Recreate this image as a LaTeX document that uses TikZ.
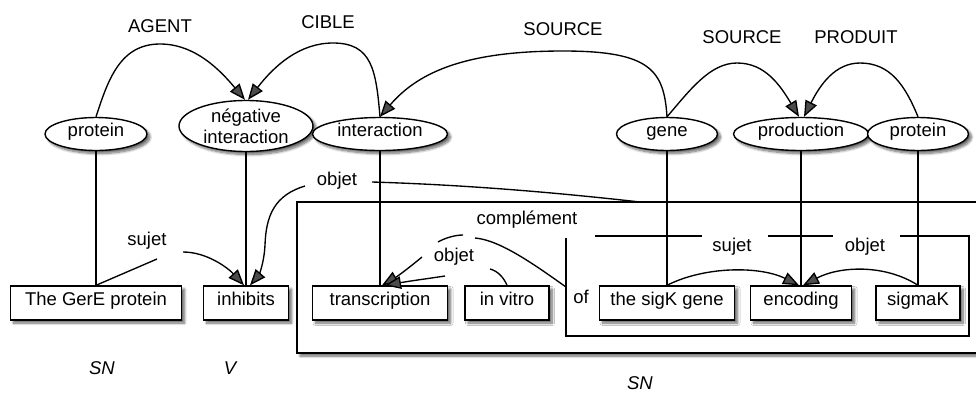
\documentclass[tikz,border=0pt]{standalone}
\usepackage{fontspec}
\setmainfont{Liberation Sans}
\usetikzlibrary{arrows.meta,shapes.geometric,shadows.blur}
\begin{document}
\begin{tikzpicture}[x=1pt,y=-1pt,
  every node/.style={font=\fontsize{18.5}{21}\selectfont},
  softshadow/.style={blur shadow={shadow xshift=3pt,shadow yshift=-3pt,shadow blur radius=2.5pt,shadow blur steps=8,shadow opacity=60}},
  concept/.style={ellipse,draw,line width=1.4pt,fill=white,inner sep=0pt,
    minimum height=33pt,text height=0.72em,text depth=0.22em,softshadow},
  word/.style={rectangle,draw,line width=1.4pt,fill=white,inner sep=0pt,
    minimum height=34pt,text height=0.72em,text depth=0.22em,softshadow},
  lbl/.style={anchor=base,inner sep=0pt},
  link/.style={line width=1.35pt},
  arr/.style={link,-{Triangle[length=16pt,width=12.5pt]}}
]
\clip (0,0) rectangle (976,392);

% outer noun phrase frame (runs past the right edge)
\draw[line width=1.4pt,fill=white,softshadow] (297,202) rectangle (1000,353);
\coordinate (snTop) at (640,202);

% inner noun phrase frame, its top broken by the two labels
\coordinate (innerW) at (566,287);
\draw[link] (595,236) -- (702,236) (768,236) -- (833,236)
  (900,236) -- (969,236) -- (969,336) -- (566,336) -- (566,238);

% semantic concepts
\node[concept,minimum width=102pt] (protL) at (96,134) {protein};
\node[concept,minimum width=134pt,minimum height=51pt,align=center,text height=,text depth=] (neg) at (246,126) {négative\\interaction};
\node[concept,minimum width=135pt] (inter) at (380,134) {interaction};
\node[concept,minimum width=101pt] (gene) at (667,134) {gene};
\node[concept,minimum width=135pt] (prod) at (801,134) {production};
\node[concept,minimum width=101pt] (protR) at (918,134) {protein};

% words of the sentence
\node[word,minimum width=171pt] (gere) at (96,303) {The GerE protein};
\node[word,minimum width=85pt] (inhib) at (246,303) {inhibits};
\node[word,minimum width=135pt] (transc) at (380,303) {transcription};
\node[word,minimum width=84pt] (vitro) at (507,303) {in vitro};
\node[lbl] (of) at (581,303) {of};
\node[word,minimum width=135pt] (sigk) at (667,303) {the sigK gene};
\node[word,minimum width=101pt] (enc) at (801,303) {encoding};
\node[word,minimum width=84pt] (sigma) at (918,303) {sigmaK};

% concept-to-word anchors
\draw[link] (protL) -- (gere);
\draw[link] (neg) -- (inhib);
\draw[link] (inter) -- (transc);
\draw[link] (gene) -- (sigk);
\draw[link] (prod) -- (enc);
\draw[link] (protR) -- (sigma);

% semantic roles
\draw[arr] (protL.north) .. controls (108,80) and (120,44) .. (160,44)
  .. controls (195,44) and (220,70) .. ([xshift=-1pt]neg.north);
\draw[arr] (inter.north) .. controls (376,70) and (372,43) .. (333,43)
  .. controls (300,43) and (275,65) .. ([xshift=2pt]neg.north);
\draw[arr] (gene.north) .. controls (664,70) and (650,51) .. (563,51)
  .. controls (470,51) and (420,70) .. (inter.north);
\draw[arr] (gene.north) .. controls (690,90) and (710,63) .. (737,63)
  .. controls (765,63) and (780,85) .. ([xshift=-2pt]prod.north);
\draw[arr] (protR.north) .. controls (905,85) and (890,63) .. (860,63)
  .. controls (835,63) and (820,85) .. ([xshift=3pt]prod.north);

\node[lbl] at (160,32) {AGENT};
\node[lbl] at (328,28) {CIBLE};
\node[lbl] at (563,35) {SOURCE};
\node[lbl] at (742,43) {SOURCE};
\node[lbl] at (856,43) {PRODUIT};

% syntactic relations
\coordinate (sjA) at (157,259);
\coordinate (sjB) at (183,252);
\draw[link] (gere.north) -- (sjA);
\draw[arr] (sjB) .. controls (207,252) and (228,268) .. ([xshift=-2pt]inhib.north);
\node[lbl] at (147,245) {sujet};

\coordinate (obA) at (372,182);
\coordinate (obB) at (305,186);
\draw[link] (snTop) .. controls (560,193) and (470,185) .. (obA);
\draw[arr] (obB) .. controls (275,195) and (266,215) .. (265,245)
  .. controls (264,265) and (258,276) .. ([xshift=4pt]inhib.north);
\node[lbl] at (337,185) {objet};

\coordinate (cpA) at (475,238);
\coordinate (cpB) at (463,235);
\coordinate (cpC) at (438,242);
\coordinate (cpD) at (422,257);
\draw[link] (innerW) .. controls (535,265) and (500,240) .. (cpA);
\draw[link] (cpB) .. controls (455,235) and (445,238) .. (cpC);
\draw[arr] (cpD) .. controls (410,267) and (398,276) .. ([xshift=2pt]transc.north);
\node[lbl] at (527,224) {complément};

\coordinate (ovA) at (490,269);
\coordinate (ovB) at (445,276);
\draw[link] (vitro.north) .. controls (504,278) and (498,271) .. (ovA);
\draw[arr] (ovB) .. controls (425,279) and (410,281) .. ([xshift=5pt]transc.north);
\node[lbl] at (454,261) {objet};

\draw[arr] (sigk.north) .. controls (705,266) and (760,266) .. ([xshift=-2pt]enc.north);
\draw[arr] (sigma.north) .. controls (885,264) and (840,266) .. ([xshift=2pt]enc.north);
\node[lbl] at (732,251) {sujet};
\node[lbl] at (865,251) {objet};

% phrase categories
\node[lbl,font=\fontsize{18.5}{21}\selectfont\itshape] at (102,374) {SN};
\node[lbl,font=\fontsize{18.5}{21}\selectfont\itshape] at (230,374) {V};
\node[lbl,font=\fontsize{18.5}{21}\selectfont\itshape] at (640,389) {SN};
\end{tikzpicture}
\end{document}
